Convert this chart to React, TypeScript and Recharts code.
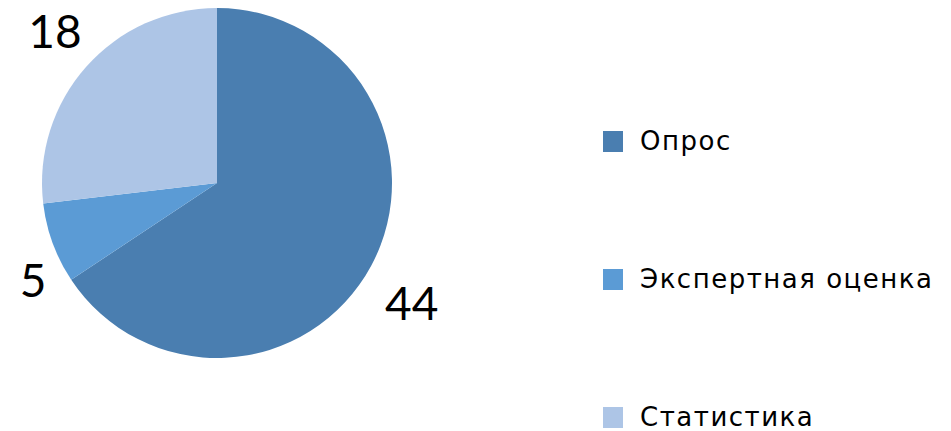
import { PieChart, Pie, Cell, Legend } from "recharts";

const categories = ["Опрос", "Экспертная оценка", "Статистика"];
const values = [44, 5, 18];
const COLORS = ["#4A7EB0", "#5B9BD5", "#ADC5E6"];

const data = categories.map((name, i) => ({ name, value: values[i] }));

const RAD = Math.PI / 180;

// outside-end labels, Excel style: box corner touches a point just past the rim
const renderLabel = (props: any) => {
  const { cx, cy, midAngle, outerRadius, value } = props;
  const r = outerRadius + 10;
  const cos = Math.cos(-midAngle * RAD);
  const sin = Math.sin(-midAngle * RAD);
  const px = cx + r * cos;
  const py = cy + r * sin;
  const lower = sin > 0;
  return (
    <text
      x={cos >= 0 ? px + 5 : px + 3}
      y={lower ? py + 50 : py - 12}
      textAnchor={cos >= 0 ? "start" : "end"}
      fill="#000"
      fontSize={46}
      fontFamily="Lato, 'Open Sans', sans-serif"
    >
      {value}
    </text>
  );
};

const renderLegend = () => (
  <div style={{ fontFamily: "'DejaVu Sans', 'Open Sans', sans-serif" }}>
    {data.map((d, i) => (
      <div
        key={d.name}
        style={{ display: "flex", alignItems: "center", height: 21, marginBottom: i < data.length - 1 ? 117 : 0 }}
      >
        <div style={{ width: 20, height: 21, background: COLORS[i], marginRight: 17, flexShrink: 0 }} />
        <span style={{ fontSize: 26, lineHeight: "21px", letterSpacing: 1.5, color: "#000", whiteSpace: "nowrap" }}>
          {d.name}
        </span>
      </div>
    ))}
  </div>
);

export default function App() {
  return (
    <div style={{ position: "absolute", left: 0, top: 0, width: 951, height: 431, background: "#fff" }}>
      <PieChart width={951} height={431} margin={{ top: 0, right: 0, bottom: 0, left: 0 }}>
        <Pie
          data={data}
          dataKey="value"
          nameKey="name"
          cx={217}
          cy={183}
          outerRadius={175}
          startAngle={90}
          endAngle={-270}
          stroke="none"
          label={renderLabel}
          labelLine={false}
          isAnimationActive={false}
        >
          {data.map((d, i) => (
            <Cell key={d.name} fill={COLORS[i]} />
          ))}
        </Pie>
        <Legend
          content={renderLegend}
          wrapperStyle={{ left: 603, top: 131, width: 348 }}
        />
      </PieChart>
    </div>
  );
}
